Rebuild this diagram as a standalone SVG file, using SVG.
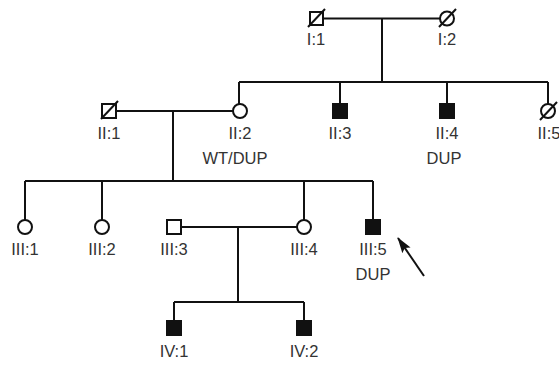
<svg xmlns="http://www.w3.org/2000/svg" width="559" height="366" viewBox="0 0 559 366">
<style>
.ln{stroke:#111;stroke-width:2;fill:none}
.u{fill:#fff;stroke:#111;stroke-width:2}
.a{fill:#111;stroke:#111;stroke-width:2}
.d{stroke:#111;stroke-width:2}
text{font-family:"Liberation Sans",Arial,sans-serif;font-size:16.5px;fill:#333;text-anchor:middle}
</style>
<defs>
<marker id="ah" viewBox="0 0 16 10" refX="15" refY="5" markerWidth="8" markerHeight="5" orient="auto-start-reverse" markerUnits="strokeWidth">
<path d="M0,0 L16,5 L0,10 L3,5 z" fill="#111"/>
</marker>
</defs>
<rect width="559" height="366" fill="#fff"/>
<g id="connectors">
<path class="ln" d="M323,18.5 H440"/>
<path class="ln" d="M382,18.5 V82"/>
<path class="ln" d="M239,82 H548"/>
<path class="ln" d="M239,82 V104 M340,82 V104 M447,82 V104 M548,82 V104"/>
<path class="ln" d="M116,111 H233"/>
<path class="ln" d="M173,111 V181"/>
<path class="ln" d="M25,181 H373"/>
<path class="ln" d="M25,181 V220 M102,181 V220 M304,181 V220 M373,181 V220"/>
<path class="ln" d="M181,227 H297"/>
<path class="ln" d="M238,227 V302"/>
<path class="ln" d="M174,302 H304"/>
<path class="ln" d="M174,302 V321 M304,302 V321"/>
</g>
<g id="I1"><rect class="u" x="310" y="12" width="13" height="13"/><line class="d" x1="308" y1="27" x2="325" y2="9"/><text x="316" y="45">I:1</text></g>
<g id="I2"><circle class="u" cx="447" cy="18.5" r="7"/><line class="d" x1="439" y1="27" x2="456" y2="9"/><text x="447" y="45">I:2</text></g>
<g id="II1"><rect class="u" x="102" y="104" width="14" height="14"/><line class="d" x1="101" y1="119" x2="118" y2="101"/><text x="109" y="139">II:1</text></g>
<g id="II2"><circle class="u" cx="240" cy="111" r="7"/><text x="240" y="139">II:2</text><text x="235" y="164">WT/DUP</text></g>
<g id="II3"><rect class="a" x="333" y="104" width="14" height="14"/><text x="340" y="139">II:3</text></g>
<g id="II4"><rect class="a" x="440" y="104" width="14" height="14"/><text x="447" y="139">II:4</text><text x="444" y="164">DUP</text></g>
<g id="II5"><circle class="u" cx="548" cy="111" r="7"/><line class="d" x1="540" y1="120" x2="557" y2="102"/><text x="549" y="139">II:5</text></g>
<g id="III1"><circle class="u" cx="25" cy="227" r="7"/><text x="25" y="255">III:1</text></g>
<g id="III2"><circle class="u" cx="102" cy="227" r="7"/><text x="102" y="255">III:2</text></g>
<g id="III3"><rect class="u" x="167" y="220" width="14" height="14"/><text x="174" y="255">III:3</text></g>
<g id="III4"><circle class="u" cx="304" cy="227" r="7"/><text x="304" y="255">III:4</text></g>
<g id="III5"><rect class="a" x="366" y="220" width="14" height="14"/><text x="373" y="255">III:5</text><text x="373" y="280">DUP</text></g>
<g id="arrow"><line class="ln" x1="424" y1="276" x2="398" y2="238" stroke-width="2.5" marker-end="url(#ah)"/></g>
<g id="IV1"><rect class="a" x="167" y="321" width="14" height="14"/><text x="174" y="357">IV:1</text></g>
<g id="IV2"><rect class="a" x="297" y="321" width="14" height="14"/><text x="304" y="357">IV:2</text></g>
</svg>
